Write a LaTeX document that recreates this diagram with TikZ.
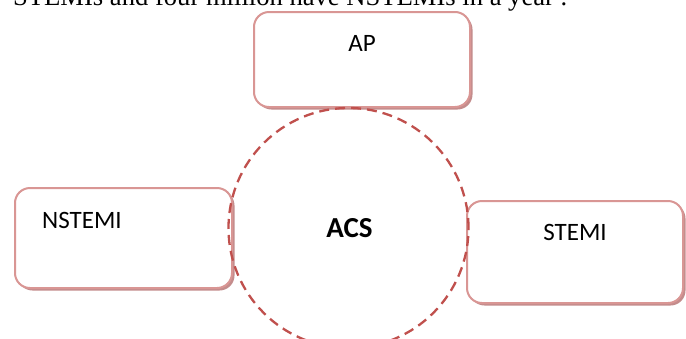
\documentclass[tikz,border=0pt]{standalone}
\usepackage{fontspec}
\setmainfont{Carlito}
\newfontfamily\serifface{Liberation Serif}
\definecolor{boxline}{RGB}{217,150,148}
\definecolor{boxshadow}{RGB}{196,140,140}
\definecolor{circred}{RGB}{192,80,77}
\tikzset{
  pinkbox/.style={draw=boxline, line width=2pt, rounded corners=15pt, fill=white,
    inner sep=0pt,
    preaction={fill=boxshadow, transform canvas={shift={(2.5pt,-2.5pt)}}}},
  boxtext/.style={font=\fontsize{25}{30}\selectfont, inner sep=0pt, text=black},
  acsring/.style={draw=circred, line width=2.3pt, dash pattern=on 10pt off 6pt}
}
\begin{document}
\begin{tikzpicture}[x=1pt,y=-1pt]
\useasboundingbox (0,0) rectangle (686,338);
\clip (0,0) rectangle (686,338);
\fill[white] (0,0) rectangle (686,338);
\node[anchor=base west, inner sep=0pt, font=\serifface\fontsize{26.6}{30}\selectfont] (para) at (13,5) {STEMIs and four million have NSTEMIs in a year .};
\node[pinkbox, minimum width=216pt, minimum height=95pt] (ap) at (362,59.5) {};
\node[pinkbox, minimum width=217pt, minimum height=100pt] (nstemi) at (123.5,238) {};
\node[pinkbox, minimum width=216pt, minimum height=102pt] (stemi) at (575,252) {};
\node[boxtext] (aptext) at (362,43) {AP};
\node[boxtext, anchor=west] (nstemitext) at (42,220) {NSTEMI};
\node[boxtext] (stemitext) at (575,232) {STEMI};
\node[circle, acsring, minimum size=240pt, inner sep=0pt] (acs) at (348.5,228) {};
\node[font=\fontsize{29}{34}\selectfont\bfseries, inner sep=0pt] (acstext) at (349.5,228) {ACS};
\end{tikzpicture}
\end{document}
